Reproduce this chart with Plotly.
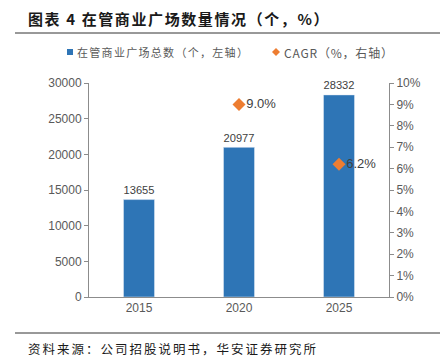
import plotly.graph_objects as go

years = ["2015", "2020", "2025"]
plaza_counts = [13655, 20977, 28332]
cagr_years = ["2020", "2025"]
cagr_values = [9.0, 6.2]
left_ticks = [0, 5000, 10000, 15000, 20000, 25000, 30000]
right_ticks = list(range(0, 11))

BLUE = "#2E75B6"
ORANGE = "#ED7D31"
GRAY = "#595959"
CJK = "Noto Sans CJK SC"
LAT = "Liberation Sans, Arial"

fig = go.Figure()
fig.add_trace(go.Bar(
    x=years, y=plaza_counts, name="在管商业广场总数（个，左轴）",
    marker=dict(color=BLUE), width=0.31,
    text=[str(v) for v in plaza_counts], textposition="outside",
    textfont=dict(family=LAT, size=13, color="#404040"), cliponaxis=False,
))
fig.add_trace(go.Scatter(
    x=cagr_years, y=cagr_values, name="CAGR（%，右轴）", yaxis="y2",
    mode="markers+text", marker=dict(symbol="diamond", size=10, color=ORANGE),
    text=[f"{v:.1f}%" for v in cagr_values], textposition="middle right",
    textfont=dict(family=LAT, size=13, color="#404040"), cliponaxis=False,
))

# page body has an 8px margin; build figure in window coords offset by 8
OFF = 8
W, H = 448 - OFF, 363 - OFF
L, R, T, B = 89 - OFF, 67 - OFF, 83 - OFF, 66 + 0
pw, ph = W - L - R, H - T - B
def px(x): return (x - OFF - L) / pw
def py(y): return (H - B - (y - OFF)) / ph

fig.update_layout(
    width=W, height=H, margin=dict(l=L, r=R, t=T, b=B, autoexpand=False),
    paper_bgcolor="white", plot_bgcolor="white",
    bargap=0.69, showlegend=False,
    xaxis=dict(type="category", showline=True, linecolor="#8C8C8C", linewidth=1, automargin=False,
               ticks="", tickfont=dict(family=LAT, size=12, color=GRAY), showgrid=False),
    yaxis=dict(range=[0, 30000], tickvals=left_ticks, ticktext=[str(v) for v in left_ticks],
               showline=True, linecolor="#8C8C8C", automargin=False,
               ticks="outside", ticklen=4, tickcolor="#8C8C8C", showgrid=False, zeroline=False,
               tickfont=dict(family=LAT, size=12, color=GRAY)),
    yaxis2=dict(range=[0, 10], tickvals=right_ticks, ticktext=[f"{v}%" for v in right_ticks],
                overlaying="y", side="right", showline=True, linecolor="#8C8C8C", automargin=False,
                ticks="outside", ticklen=4, tickcolor="#8C8C8C", showgrid=False, zeroline=False,
                tickfont=dict(family=LAT, size=12, color=GRAY)),
)

# manual legend
fig.add_shape(type="rect", xref="paper", yref="paper", x0=px(67), x1=px(73),
              y0=py(55), y1=py(49), fillcolor=BLUE, line=dict(width=0))
fig.add_annotation(text=f"<span style='letter-spacing:1.3px'>{fig.data[0].name}</span>",
                   xref="paper", yref="paper", x=px(75), y=py(52),
                   xanchor="left", yanchor="middle", showarrow=False,
                   font=dict(family=CJK, size=11, color=GRAY))
fig.add_shape(type="path", xref="paper", yref="paper",
              path=f"M {px(272)} {py(52)} L {px(276)} {py(48)} L {px(280)} {py(52)} L {px(276)} {py(56)} Z",
              fillcolor=ORANGE, line=dict(width=0))
fig.add_annotation(text=f"<span style='letter-spacing:0.8px'>{fig.data[1].name}</span>",
                   xref="paper", yref="paper", x=px(282), y=py(52),
                   xanchor="left", yanchor="middle", showarrow=False,
                   font=dict(family=CJK, size=12, color=GRAY))

fig.add_annotation(text="<span style='letter-spacing:1.6px'><b>图表 4 在管商业广场数量情况（个，%）</b></span>",
                   xref="paper", yref="paper",
                   x=px(26), y=py(18.5), xanchor="left", yanchor="middle", showarrow=False,
                   font=dict(family=CJK, size=15, color="#1a1a1a"))
fig.add_annotation(text="<span style='letter-spacing:2px'>资料来源：公司招股说明书，华安证券研究所</span>",
                   xref="paper", yref="paper",
                   x=px(26), y=py(348), xanchor="left", yanchor="middle", showarrow=False,
                   font=dict(family=CJK, size=12.5, color="#1a1a1a"))
fig.add_shape(type="line", xref="paper", yref="paper", x0=px(15), x1=px(448),
              y0=py(33), y1=py(33), line=dict(color="#333333", width=1))
fig.add_shape(type="line", xref="paper", yref="paper", x0=px(15), x1=px(448),
              y0=py(333), y1=py(333), line=dict(color="#333333", width=1))

fig.write_html("out.html")
